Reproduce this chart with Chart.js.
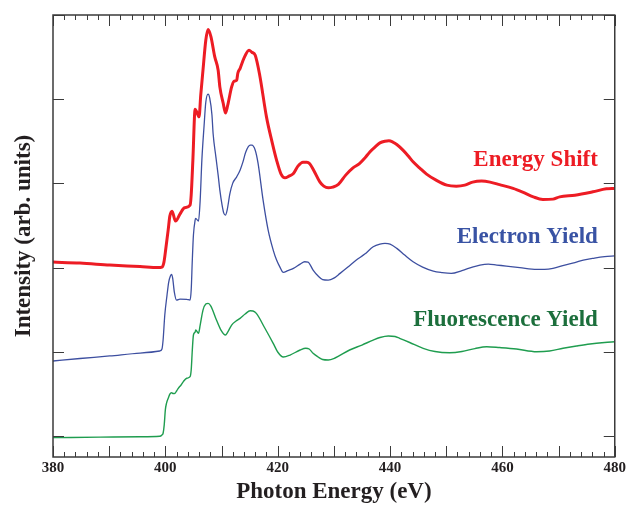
<!DOCTYPE html>
<html>
<head>
<meta charset="utf-8">
<script src="https://cdn.jsdelivr.net/npm/chart.js@4.4.0/dist/chart.umd.min.js"></script>
<style>
  html, body { margin: 0; padding: 0; background: #fff; }
</style>
</head>
<body>
<canvas id="xas" width="628" height="506"></canvas>
<script>
// N K-edge spectra, stacked with vertical offsets (arb. units)
const shiftEnergy = [380, 384.8, 390.1, 395.5, 398.7, 399.4, 399.75, 400.05, 400.5, 400.8, 401.2, 401.8, 402.6, 403.4, 404.4, 404.6, 404.9, 405.3, 405.6, 406.0, 406.3, 406.7, 407.2, 407.6, 408.1, 408.8, 409.4, 409.7, 410.3, 410.7, 411.1, 411.8, 412.2, 412.7, 412.9, 413.3, 414.0, 414.9, 415.4, 416.0, 416.8, 418.0, 419.0, 419.8, 420.6, 421.3, 422.0, 422.8, 423.6, 424.5, 425.2, 425.7, 426.4, 427.5, 428.2, 429.0, 429.8, 430.8, 432.1, 433.4, 434.6, 435.5, 436.4, 437.3, 438.2, 439.1, 439.8, 440.5, 441.2, 442.3, 443.2, 444.1, 445.3, 446.5, 448.2, 450.1, 451.8, 453.3, 454.7, 456.3, 457.8, 459.5, 461.9, 463.6, 465.5, 467.2, 469.0, 470.2, 472.9, 476.1, 478.5, 480];
const shiftSignal = [2.065, 2.053, 2.030, 2.012, 2.000, 2.006, 2.065, 2.208, 2.445, 2.611, 2.670, 2.552, 2.635, 2.710, 2.742, 2.860, 3.276, 3.881, 3.846, 3.790, 4.047, 4.344, 4.700, 4.827, 4.747, 4.502, 4.344, 4.146, 3.952, 3.837, 3.928, 4.146, 4.213, 4.225, 4.308, 4.364, 4.487, 4.581, 4.558, 4.522, 4.285, 3.790, 3.490, 3.276, 3.110, 3.066, 3.086, 3.118, 3.205, 3.252, 3.252, 3.234, 3.157, 3.018, 2.967, 2.947, 2.955, 2.987, 3.098, 3.184, 3.237, 3.300, 3.374, 3.430, 3.481, 3.501, 3.505, 3.490, 3.462, 3.395, 3.329, 3.256, 3.181, 3.110, 3.038, 2.979, 2.967, 2.979, 3.015, 3.027, 3.015, 2.985, 2.940, 2.896, 2.840, 2.809, 2.813, 2.840, 2.860, 2.900, 2.935, 2.940];

const electronEnergy = [380, 384.8, 390.1, 395.5, 399.0, 399.4, 399.6, 399.9, 400.3, 400.6, 400.9, 401.1, 401.3, 401.6, 402.0, 402.6, 403.8, 404.4, 404.6, 404.8, 405.0, 405.3, 405.4, 405.9, 406.2, 406.5, 406.9, 407.2, 407.6, 407.9, 408.3, 408.5, 409.0, 409.4, 409.7, 410.1, 410.4, 410.7, 411.0, 411.5, 412.0, 412.7, 413.3, 413.8, 414.3, 415.1, 415.4, 416.0, 416.5, 417.4, 418.3, 419.2, 419.8, 420.4, 421.0, 421.8, 422.8, 424.0, 424.8, 425.4, 426.3, 427.2, 428.0, 429.0, 430.0, 431.1, 432.5, 434.0, 435.5, 437.0, 438.2, 439.1, 440.0, 441.2, 442.6, 444.1, 445.8, 447.7, 449.2, 450.9, 452.8, 454.8, 456.0, 457.5, 459.0, 460.7, 463.1, 466.1, 467.5, 469.0, 471.1, 472.9, 474.4, 476.4, 478.2, 480];
const electronYield = [0.890, 0.920, 0.950, 0.985, 1.009, 1.033, 1.139, 1.436, 1.674, 1.828, 1.899, 1.919, 1.875, 1.709, 1.614, 1.626, 1.623, 1.614, 1.733, 2.089, 2.386, 2.564, 2.584, 2.552, 2.801, 3.276, 3.691, 3.964, 4.059, 4.012, 3.810, 3.593, 3.312, 3.098, 2.920, 2.742, 2.647, 2.623, 2.682, 2.881, 3.003, 3.078, 3.157, 3.252, 3.371, 3.454, 3.454, 3.394, 3.240, 2.801, 2.445, 2.208, 2.089, 2.006, 1.943, 1.964, 1.990, 2.041, 2.069, 2.065, 1.970, 1.899, 1.858, 1.852, 1.875, 1.931, 2.006, 2.089, 2.160, 2.247, 2.279, 2.287, 2.279, 2.228, 2.148, 2.069, 2.006, 1.958, 1.941, 1.931, 1.964, 2.009, 2.030, 2.041, 2.030, 2.018, 2.000, 1.979, 1.979, 1.990, 2.030, 2.059, 2.089, 2.113, 2.130, 2.140];

const fluoEnergy = [380, 388.4, 395.5, 399.0, 399.4, 399.6, 399.8, 400.0, 400.2, 400.6, 400.8, 401.1, 401.4, 401.7, 402.0, 402.3, 402.8, 403.2, 403.8, 404.4, 404.6, 404.8, 405.0, 405.3, 405.4, 405.9, 406.2, 406.7, 407.2, 407.6, 408.1, 409.1, 409.9, 410.7, 411.1, 411.8, 412.6, 413.3, 414.2, 415.1, 415.6, 416.2, 417.7, 419.2, 420.0, 421.0, 422.2, 424.0, 425.0, 425.6, 426.3, 427.2, 428.0, 429.0, 430.2, 432.8, 435.0, 437.0, 438.2, 439.7, 440.9, 441.7, 443.5, 445.9, 448.0, 450.6, 452.8, 455.1, 457.2, 459.5, 462.5, 466.1, 468.4, 470.8, 473.2, 475.6, 478.2, 480];
const fluoYield = [-0.020, -0.014, -0.009, -0.004, 0.012, 0.032, 0.131, 0.309, 0.388, 0.463, 0.498, 0.514, 0.504, 0.507, 0.534, 0.566, 0.605, 0.645, 0.685, 0.704, 0.783, 1.021, 1.199, 1.234, 1.258, 1.219, 1.317, 1.495, 1.567, 1.575, 1.543, 1.377, 1.258, 1.199, 1.234, 1.317, 1.365, 1.397, 1.448, 1.487, 1.484, 1.456, 1.282, 1.100, 0.997, 0.938, 0.961, 1.021, 1.041, 1.033, 0.982, 0.938, 0.908, 0.902, 0.926, 1.021, 1.080, 1.139, 1.169, 1.187, 1.181, 1.160, 1.110, 1.041, 1.003, 0.989, 1.003, 1.038, 1.060, 1.050, 1.033, 1.001, 1.009, 1.041, 1.068, 1.092, 1.110, 1.119];

const xMin = 380, xMax = 480;
const yMin = -0.25, yMax = 5;
const yTicks = [0, 1, 2, 3, 4, 5];

// label text, anchor (eV, intensity), colour
const seriesLabels = [
  { text: "Energy Shift", x: 477, y: 3.205, color: "#ed1c24" },
  { text: "Electron Yield", x: 477, y: 2.287, color: "#3953a4" },
  { text: "Fluorescence Yield", x: 477, y: 1.306, color: "#1c6f3c" },
];

const serif = "'Liberation Serif', 'Times New Roman', serif";
const ink = "#231f20";

function toPoints(xs, ys) {
  return xs.map((e, i) => ({ x: e, y: ys[i] }));
}

// box frame plus inward ticks on all four sides
const frameTicks = {
  id: "frameTicks",
  afterDatasetsDraw(chart) {
    const ctx = chart.ctx;
    const { left, right, top, bottom } = chart.chartArea;
    const xs = chart.scales.x;
    const ys = chart.scales.y;
    ctx.save();
    ctx.strokeStyle = "#3b3b3b";
    ctx.lineWidth = 1;
    ctx.beginPath();
    for (let e = xMin; e <= xMax; e += 2) {
      const px = Math.round(xs.getPixelForValue(e)) + 0.5;
      const len = e % 10 === 0 ? 11 : 5;
      ctx.moveTo(px, bottom);
      ctx.lineTo(px, bottom - len);
      ctx.moveTo(px, top);
      ctx.lineTo(px, top + len);
    }
    yTicks.forEach((v) => {
      const py = Math.round(ys.getPixelForValue(v)) + 0.5;
      ctx.moveTo(left, py);
      ctx.lineTo(left + 11, py);
      ctx.moveTo(right, py);
      ctx.lineTo(right - 11, py);
    });
    ctx.stroke();
    ctx.lineWidth = 1.5;
    ctx.strokeRect(left, top, right - left, bottom - top);
    ctx.restore();
  },
};

const curveLabels = {
  id: "curveLabels",
  afterDatasetsDraw(chart) {
    const ctx = chart.ctx;
    const xs = chart.scales.x;
    const ys = chart.scales.y;
    ctx.save();
    ctx.font = "bold 23px " + serif;
    ctx.textAlign = "right";
    ctx.textBaseline = "alphabetic";
    seriesLabels.forEach((l) => {
      ctx.fillStyle = l.color;
      ctx.fillText(l.text, xs.getPixelForValue(l.x), ys.getPixelForValue(l.y));
    });
    ctx.restore();
  },
};

const chart = new Chart(document.getElementById("xas"), {
  type: "line",
  data: {
    datasets: [
      {
        label: "Energy Shift",
        data: toPoints(shiftEnergy, shiftSignal),
        borderColor: "#ed1c24",
        borderWidth: 3,
      },
      {
        label: "Electron Yield",
        data: toPoints(electronEnergy, electronYield),
        borderColor: "#3d4fa0",
        borderWidth: 1.3,
      },
      {
        label: "Fluorescence Yield",
        data: toPoints(fluoEnergy, fluoYield),
        borderColor: "#1f9d4f",
        borderWidth: 1.4,
      },
    ],
  },
  options: {
    responsive: false,
    animation: false,
    events: [],
    layout: { padding: { left: 0, right: 13, top: 15, bottom: 0 } },
    elements: {
      point: { radius: 0 },
      line: { cubicInterpolationMode: "monotone", fill: false },
    },
    plugins: {
      legend: { display: false },
      tooltip: { enabled: false },
    },
    scales: {
      x: {
        type: "linear",
        min: xMin,
        max: xMax,
        grid: { display: false, drawTicks: false },
        border: { display: false },
        ticks: {
          stepSize: 20,
          padding: 2,
          maxRotation: 0,
          autoSkip: false,
          color: ink,
          font: { family: serif, size: 15, weight: "bold" },
        },
        title: {
          display: true,
          text: "Photon Energy (eV)",
          color: ink,
          padding: 0,
          font: { family: serif, size: 23, weight: "bold" },
        },
        afterFit(scale) {
          scale.height = 49;
        },
      },
      y: {
        min: yMin,
        max: yMax,
        grid: { display: false, drawTicks: false },
        border: { display: false },
        ticks: { display: false },
        title: {
          display: true,
          text: "Intensity (arb. units)",
          color: ink,
          padding: { top: 10, bottom: 0 },
          font: { family: serif, size: 23, weight: "bold" },
        },
        afterFit(scale) {
          scale.width = 53;
        },
      },
    },
  },
  plugins: [frameTicks, curveLabels],
});
</script>
</body>
</html>
